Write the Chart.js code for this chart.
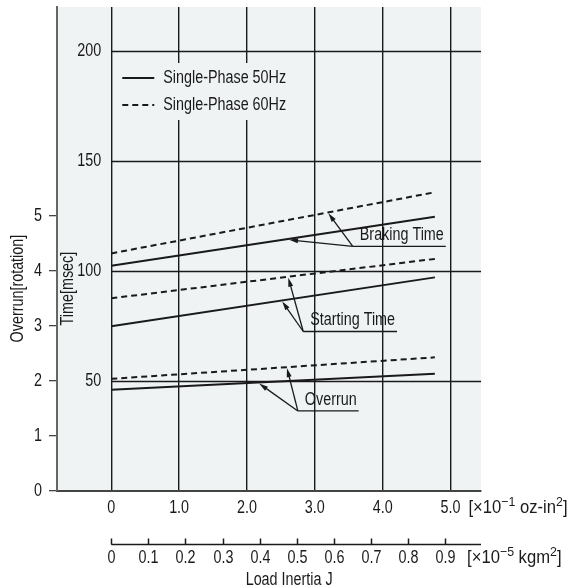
<!DOCTYPE html>
<html>
<head>
<meta charset="utf-8">
<script src="https://cdn.jsdelivr.net/npm/chart.js@4.4.1/dist/chart.umd.min.js"></script>
<style>
  html, body { margin: 0; padding: 0; background: #fff; }
  #wrap { width: 568px; height: 588px; }
</style>
</head>
<body>
<div id="wrap"><canvas id="c" width="568" height="588"></canvas></div>
<script>
// load inertia, x10^-1 oz-in^2
const loadInertia = [0, 4.77];
const xTicks = [0, 1, 2, 3, 4, 5];
const kgm2Ticks = [0, 0.1, 0.2, 0.3, 0.4, 0.5, 0.6, 0.7, 0.8, 0.9];
const KGM2_PER_UNIT = 0.1829; // 0.1 oz-in^2 in 10^-5 kgm^2

// time [msec]
const timeTicks = [50, 100, 150, 200];
const brakingTime50 = [102.4, 124.7];
const brakingTime60 = [108.0, 135.8];
const startingTime50 = [74.9, 97.1];
const startingTime60 = [87.6, 105.5];

// overrun [rotation]
const overrunTicks = [0, 1, 2, 3, 4, 5];
const overrun50 = [1.84, 2.13];
const overrun60 = [2.04, 2.43];

const legendLabels = ['Single-Phase 50Hz', 'Single-Phase 60Hz'];

// callouts: label anchor (x, msec) and arrow tips (x on a series)
const callouts = [
  { text: 'Braking Time', at: [3.56, 111.2], tips: [[brakingTime50, 2.62, 'y'], [brakingTime60, 3.2, 'y']] },
  { text: 'Starting Time', at: [2.83, 72.5], tips: [[startingTime50, 2.52, 'y'], [startingTime60, 2.61, 'y']] },
  { text: 'Overrun', at: [2.75, 36.4], tips: [[overrun50, 2.18, 'y2'], [overrun60, 2.59, 'y2']] }
];

const FONT = '"Liberation Sans", Arial, sans-serif';
const SIZE = 17.5;
const NARROW = 0.82; // squeeze to look like a condensed face
const INK = '#1a1a1a';
const DASH = [6, 4];

function pts(ys) {
  return loadInertia.map((x, i) => ({ x: x, y: ys[i] }));
}
function series(ys, dashed, axis) {
  return {
    data: pts(ys), showLine: true, pointRadius: 0, borderColor: INK,
    borderWidth: 2, borderDash: dashed ? DASH : [], yAxisID: axis
  };
}
function lerp(ys, x) {
  const t = (x - loadInertia[0]) / (loadInertia[1] - loadInertia[0]);
  return ys[0] + (ys[1] - ys[0]) * t;
}
// condensed text; returns drawn width
function txt(ctx, s, x, y, align, size, rot, squeeze) {
  const k = squeeze || NARROW;
  ctx.save();
  ctx.font = (size || SIZE) + 'px ' + FONT;
  ctx.textAlign = align || 'left';
  ctx.textBaseline = 'middle';
  ctx.translate(x, y);
  if (rot) ctx.rotate(rot);
  ctx.scale(k, 1);
  ctx.fillText(s, 0, 0);
  const w = ctx.measureText(s).width * k;
  ctx.restore();
  return w;
}
function textWidth(ctx, s, size) {
  ctx.save();
  ctx.font = (size || SIZE) + 'px ' + FONT;
  const w = ctx.measureText(s).width * NARROW;
  ctx.restore();
  return w;
}
function arrow(ctx, x0, y0, x1, y1) {
  const a = Math.atan2(y1 - y0, x1 - x0);
  const c = Math.cos(a), s = Math.sin(a);
  ctx.beginPath();
  ctx.moveTo(x0, y0);
  ctx.lineTo(x1 - 5 * c, y1 - 5 * s);
  ctx.stroke();
  ctx.beginPath();
  ctx.moveTo(x1, y1);
  ctx.lineTo(x1 - 9 * c + 2.5 * s, y1 - 9 * s - 2.5 * c);
  ctx.lineTo(x1 - 9 * c - 2.5 * s, y1 - 9 * s + 2.5 * c);
  ctx.closePath();
  ctx.fill();
}
// text with superscripts, parts = [[str, sup?], ...]
function supText(ctx, parts, x, y) {
  parts.forEach(p => {
    x += txt(ctx, p[0], x, p[1] ? y - 6 : y, 'left', p[1] ? 13 : SIZE, 0, 0.95);
  });
}

const frame = {
  id: 'frame',
  beforeDraw(chart) {
    const { ctx, chartArea: a } = chart;
    ctx.save();
    ctx.fillStyle = '#eff3f3';
    ctx.fillRect(a.left, a.top, a.right - a.left, a.bottom - a.top);
    ctx.restore();
  },
  beforeDatasetsDraw(chart) {
    const { ctx, chartArea: a, scales } = chart;
    const x0 = scales.x.getPixelForValue(0);
    ctx.save();
    // horizontal grid from x = 0 only
    ctx.strokeStyle = INK;
    ctx.lineWidth = 1.4;
    timeTicks.forEach(v => {
      const y = Math.round(scales.y.getPixelForValue(v)) + 0.5;
      ctx.beginPath();
      ctx.moveTo(x0, y);
      ctx.lineTo(a.right, y);
      ctx.stroke();
    });
    ctx.fillStyle = INK;
    // time tick labels inside frame
    timeTicks.forEach(v => txt(ctx, String(v), x0 - 10, scales.y.getPixelForValue(v), 'right'));
    // overrun tick labels, left of frame
    overrunTicks.forEach(v => txt(ctx, String(v), a.left - 15, scales.y2.getPixelForValue(v), 'right'));
    // x tick labels
    xTicks.forEach(v => txt(ctx, v === 0 ? '0' : v.toFixed(1), scales.x.getPixelForValue(v), a.bottom + 17, 'center'));
    // axis titles
    const midY = scales.y.getPixelForValue(92);
    txt(ctx, 'Time[msec]', x0 - 43, midY, 'center', SIZE, -Math.PI / 2);
    txt(ctx, 'Overrun[rotation]', 18, midY, 'center', SIZE, -Math.PI / 2);
    // legend
    const lx = x0 + 2, ly = a.top + 56;
    ctx.fillStyle = '#eff3f3';
    ctx.fillRect(lx, ly, 188, 57);
    ctx.strokeStyle = INK;
    ctx.lineWidth = 1.8;
    ctx.fillStyle = INK;
    legendLabels.forEach((t, i) => {
      const y = ly + 15 + i * 27;
      ctx.setLineDash(i ? DASH : []);
      ctx.beginPath();
      ctx.moveTo(lx + 9, y);
      ctx.lineTo(lx + 41, y);
      ctx.stroke();
      txt(ctx, t, lx + 50, y);
    });
    ctx.setLineDash([]);
    ctx.restore();
  },
  afterDraw(chart) {
    const { ctx, chartArea: a, scales } = chart;
    ctx.save();
    ctx.strokeStyle = INK;
    ctx.fillStyle = INK;
    // callouts
    callouts.forEach(c => {
      const ax = scales.x.getPixelForValue(c.at[0]);
      const ay = scales.y.getPixelForValue(c.at[1]);
      const w = textWidth(ctx, c.text);
      ctx.lineWidth = 1.3;
      ctx.beginPath();
      ctx.moveTo(ax, ay);
      ctx.lineTo(ax + 9 + w, ay);
      ctx.stroke();
      txt(ctx, c.text, ax + 7, ay - 11);
      c.tips.forEach(t => {
        const tx = scales.x.getPixelForValue(t[1]);
        const ty = scales[t[2]].getPixelForValue(lerp(t[0], t[1])) + 1;
        arrow(ctx, ax, ay, tx, ty);
      });
    });
    // units after 5.0
    supText(ctx, [['[\u00d710', 0], ['\u22121', 1], [' oz-in', 0], ['2', 1], [']', 0]],
      scales.x.getPixelForValue(5) + 18, a.bottom + 17);
    // second axis in kgm^2
    const yl = a.bottom + 53.5;
    const kx = v => scales.x.getPixelForValue(v / KGM2_PER_UNIT);
    ctx.lineWidth = 1.5;
    ctx.beginPath();
    ctx.moveTo(scales.x.getPixelForValue(0), yl);
    ctx.lineTo(a.right, yl);
    ctx.stroke();
    kgm2Ticks.forEach(v => {
      const x = Math.round(kx(v)) + 0.5;
      ctx.beginPath();
      ctx.moveTo(x, yl);
      ctx.lineTo(x, yl - 6);
      ctx.stroke();
      txt(ctx, v === 0 ? '0' : v.toFixed(1), x, yl + 14, 'center');
    });
    supText(ctx, [['[\u00d710', 0], ['\u22125', 1], [' kgm', 0], ['2', 1], [']', 0]],
      kx(0.9) + 22, yl + 14);
    txt(ctx, 'Load Inertia J', (scales.x.getPixelForValue(0) + a.right) / 2 - 7, yl + 36, 'center');
    ctx.restore();
  }
};

new Chart(document.getElementById('c'), {
  type: 'scatter',
  data: {
    datasets: [
      series(brakingTime50, false, 'y'),
      series(brakingTime60, true, 'y'),
      series(startingTime50, false, 'y'),
      series(startingTime60, true, 'y'),
      series(overrun50, false, 'y2'),
      series(overrun60, true, 'y2')
    ]
  },
  options: {
    responsive: false,
    animation: false,
    events: [],
    layout: { padding: { top: 7, right: 87, left: 0, bottom: 0 } },
    plugins: { legend: { display: false }, tooltip: { enabled: false } },
    scales: {
      x: {
        type: 'linear', position: 'bottom', min: -0.8, max: 5.45,
        afterBuildTicks: s => { s.ticks = xTicks.map(v => ({ value: v })); },
        afterFit: s => { s.height = 97; s.paddingLeft = 0; s.paddingRight = 0; },
        grid: { color: INK, lineWidth: 1.4, drawTicks: false },
        border: { display: true, color: '#444', width: 2 },
        ticks: { display: false }
      },
      y: { type: 'linear', min: 0, max: 220, display: false },
      y2: {
        type: 'linear', position: 'left', min: 0, max: 8.8,
        afterBuildTicks: s => { s.ticks = overrunTicks.map(v => ({ value: v })); },
        afterFit: s => { s.width = 57; s.paddingTop = 0; s.paddingBottom = 0; },
        grid: { drawOnChartArea: false, color: '#444', tickLength: 8, lineWidth: 1.3 },
        border: { display: true, color: '#666', width: 2 },
        ticks: { display: false }
      }
    }
  },
  plugins: [frame]
});
</script>
</body>
</html>
